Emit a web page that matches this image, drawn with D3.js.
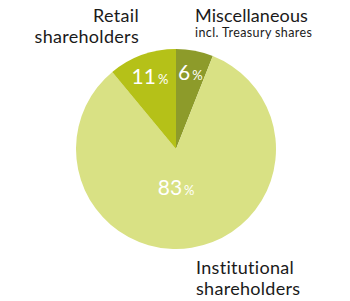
<!DOCTYPE html>
<html>
<head>
<meta charset="utf-8">
<script src="https://cdn.jsdelivr.net/npm/d3@7"></script>
<style>
  body { margin: 0; background: #fff; }
  svg { display: block; font-family: "Lato", "Open Sans", sans-serif; }
</style>
</head>
<body>
<svg width="350" height="301"></svg>
<script>
const categories = ["Miscellaneous", "Institutional shareholders", "Retail shareholders"];
const values = [6, 83, 11];
const colors = ["#8d9b2a", "#d9e184", "#b5c118"];

const svg = d3.select("svg");
const cx = 176, cy = 149, radius = 100;

const data = categories.map((c, i) => ({ name: c, value: values[i], color: colors[i] }));

const pie = d3.pie().sort(null).value((d) => d.value);
const arc = d3.arc().innerRadius(0).outerRadius(radius);

const g = svg.append("g").attr("transform", `translate(${cx}, ${cy})`);

const arcs = pie(data);

g.selectAll("path")
  .data(arcs)
  .join("path")
  .attr("d", arc)
  .attr("fill", (d) => d.data.color);

// small slices get labels near the rim, big one nearer the middle
const labelArc = (d) => {
  const r = d.data.value > 50 ? 39 : 77;
  return d3.arc().innerRadius(r).outerRadius(r).centroid(d);
};

const labels = g.selectAll("text.pct")
  .data(arcs)
  .join("text")
  .attr("class", "pct")
  .attr("text-anchor", "middle")
  .attr("fill", "#fff")
  .attr("x", (d) => labelArc(d)[0])
  .attr("y", (d) => labelArc(d)[1] + 7)
  .attr("dx", (d) => (d.data.value > 50 ? -6 : 0));

labels.append("tspan").attr("font-size", 21).text((d) => d.data.value);
labels.append("tspan").attr("font-size", 13).attr("dx", 2).text("%");

// category labels
const textG = svg.append("g").attr("fill", "#1a1a1a");

textG.append("text")
  .attr("x", 139).attr("y", 22)
  .attr("text-anchor", "end")
  .attr("font-size", 18)
  .attr("letter-spacing", 0.3)
  .selectAll("tspan")
  .data(["Retail", "shareholders"])
  .join("tspan")
  .attr("x", 139)
  .attr("dy", (d, i) => (i ? 21 : 0))
  .text((d) => d);

textG.append("text")
  .attr("x", 195).attr("y", 22)
  .attr("font-size", 18)
  .attr("letter-spacing", 0.1)
  .text("Miscellaneous");

textG.append("text")
  .attr("x", 195).attr("y", 37)
  .attr("font-size", 12.5)
  .attr("letter-spacing", 0.4)
  .text("incl. Treasury shares");

textG.append("text")
  .attr("x", 196).attr("y", 274)
  .attr("font-size", 18)
  .attr("letter-spacing", 0.3)
  .selectAll("tspan")
  .data(["Institutional", "shareholders"])
  .join("tspan")
  .attr("x", 196)
  .attr("dy", (d, i) => (i ? 21 : 0))
  .text((d) => d);
</script>
</body>
</html>
